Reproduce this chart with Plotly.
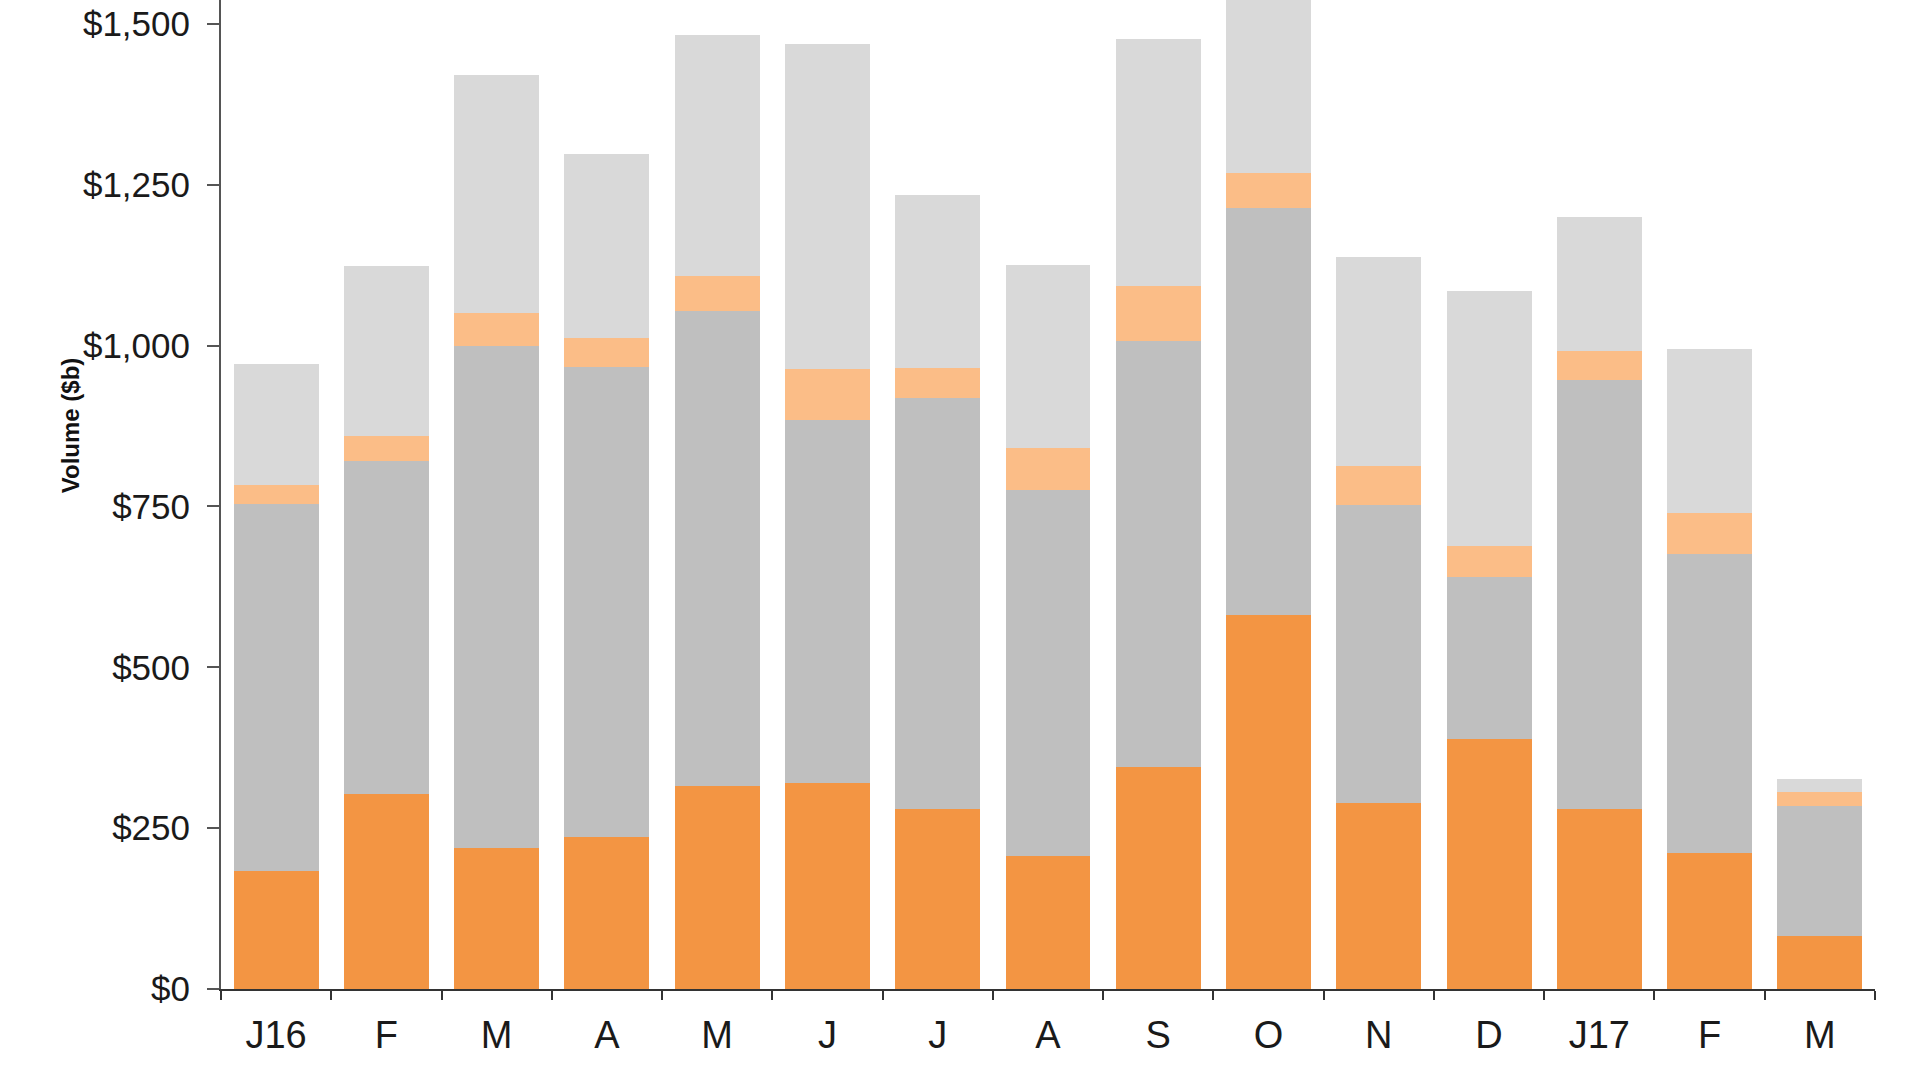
import plotly.graph_objects as go

MESES_ID = ['2016-01', '2016-02', '2016-03', '2016-04', '2016-05', '2016-06', '2016-07', '2016-08',
            '2016-09', '2016-10', '2016-11', '2016-12', '2017-01', '2017-02', '2017-03']
ROTULOS_X = ['J16', 'F', 'M', 'A', 'M', 'J', 'J', 'A', 'S', 'O', 'N', 'D', 'J17', 'F', 'M']

# cumulative tops, split into the four stacked pieces
BASE_LARANJA = [183, 303, 219, 236, 316, 320, 280, 206, 345, 581, 289, 388, 280, 211, 82]
MEIO_CINZA = [571, 517, 781, 731, 737, 565, 638, 569, 662, 632, 463, 252, 666, 465, 202]
LARANJA_CLARO = [30, 39, 51, 44, 55, 78, 47, 65, 86, 55, 61, 49, 46, 63, 22]
TOPO_CINZA = [187, 264, 369, 287, 375, 505, 269, 285, 384, 360, 324, 396, 207, 255, 20]

TICKS_Y = [0, 250, 500, 750, 1000, 1250, 1500]
ROTULOS_Y = ['$0', '$250', '$500', '$750', '$1,000', '$1,250', '$1,500']

CORES = ['#F39543', '#BFBFBF', '#FBBD87', '#D9D9D9']

fig = go.Figure()
for serie, cor in zip([BASE_LARANJA, MEIO_CINZA, LARANJA_CLARO, TOPO_CINZA], CORES):
    fig.add_trace(go.Bar(x=MESES_ID, y=serie, marker=dict(color=cor, line=dict(width=0)),
                         showlegend=False))

fig.update_layout(
    barmode='stack',
    bargap=0.23,
    width=1920, height=1080,
    plot_bgcolor='white', paper_bgcolor='white',
    margin=dict(l=221, r=45, t=0, b=91),
    font=dict(family='Liberation Sans, Arial, sans-serif', color='#1a1a1a'),
)
fig.update_xaxes(
    type='category',
    tickmode='array', tickvals=MESES_ID, ticktext=ROTULOS_X,
    showline=True, linecolor='#333333', linewidth=2,
    ticks='outside', tickson='boundaries', ticklen=9, tickcolor='#333333', tickwidth=2,
    tickfont=dict(size=38), ticklabelstandoff=11,
    showgrid=False,
)
fig.update_yaxes(
    range=[0, 1537],
    tickvals=TICKS_Y, ticktext=ROTULOS_Y,
    showline=True, linecolor='#555555', linewidth=2,
    ticks='outside', ticklen=12, tickcolor='#555555', tickwidth=2,
    tickfont=dict(size=35), ticklabelstandoff=10,
    showgrid=False, zeroline=False,
)
fig.add_annotation(
    text='<b>Volume ($b)</b>', textangle=-90, showarrow=False,
    xref='paper', yref='paper', x=-0.0913, y=0.570,
    xanchor='center', yanchor='middle',
    font=dict(size=24, color='#111111'),
)

# tira a margem padrao do body para o grafico encostar no topo da pagina
fig.write_html('out.html', config={'displayModeBar': False},
               post_script="document.body.style.margin='0px';")
